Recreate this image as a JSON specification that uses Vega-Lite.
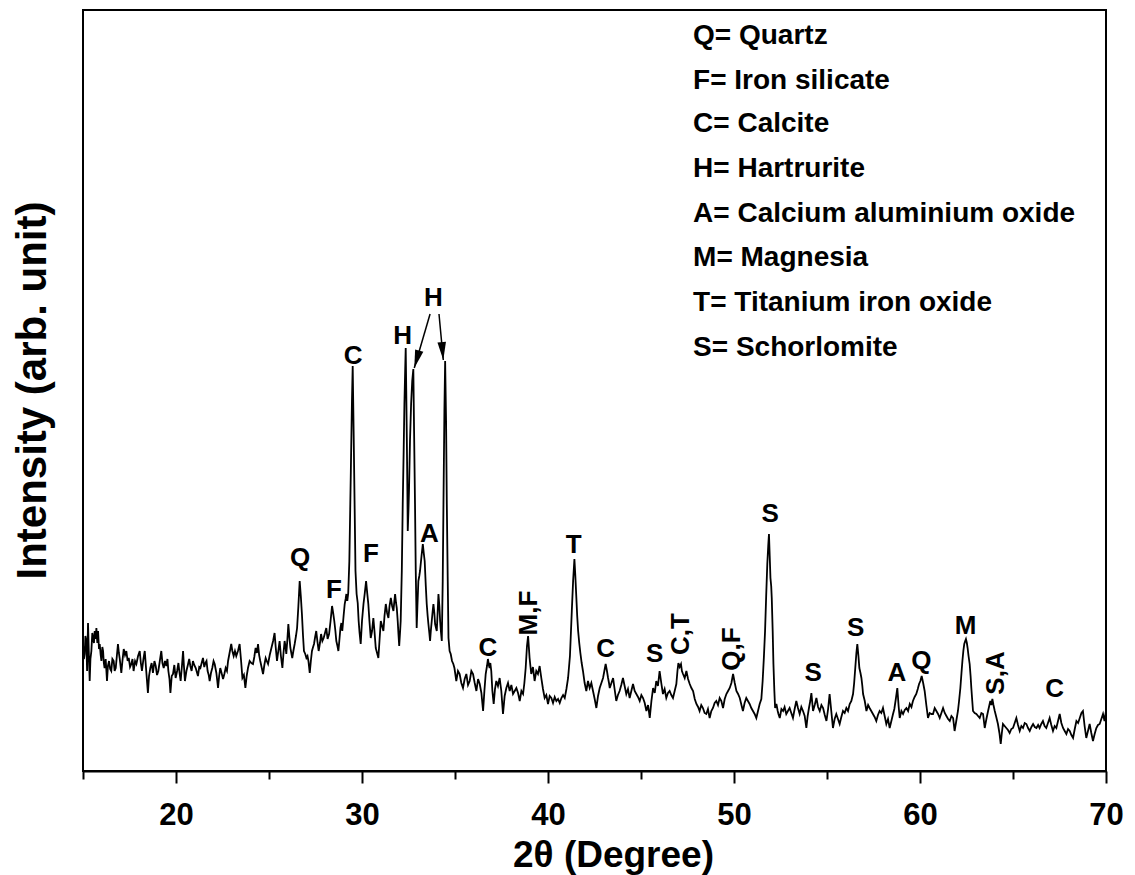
{
  "$schema": "https://vega.github.io/schema/vega-lite/v6.json",
  "width": 1023,
  "height": 761,
  "autosize": {"type": "none"},
  "padding": {"left": 83, "top": 10, "right": 29, "bottom": 104},
  "background": "white",
  "config": {
    "view": {"stroke": "black", "strokeWidth": 2},
    "font": "Liberation Sans",
    "axis": {"grid": false}
  },
  "datasets": {
    "trace": [
      {"t":15.00,"i":127},{"t":15.05,"i":112},{"t":15.09,"i":117},{"t":15.13,"i":135},{"t":15.18,"i":130},{"t":15.22,"i":100},{"t":15.27,"i":148},{"t":15.31,"i":120},{"t":15.36,"i":90},{"t":15.40,"i":112},{"t":15.45,"i":120},{"t":15.50,"i":138},{"t":15.54,"i":133},{"t":15.59,"i":128},{"t":15.63,"i":140},{"t":15.68,"i":132},{"t":15.72,"i":143},{"t":15.77,"i":128},{"t":15.81,"i":140},{"t":15.86,"i":122},{"t":15.90,"i":127},{"t":15.95,"i":116},{"t":15.99,"i":110},{"t":16.04,"i":124},{"t":16.08,"i":120},{"t":16.12,"i":108},{"t":16.16,"i":103},{"t":16.22,"i":112},{"t":16.29,"i":90},{"t":16.34,"i":105},{"t":16.40,"i":110},{"t":16.46,"i":102},{"t":16.52,"i":100},{"t":16.58,"i":112},{"t":16.65,"i":110},{"t":16.70,"i":100},{"t":16.76,"i":103},{"t":16.82,"i":115},{"t":16.88,"i":127},{"t":16.93,"i":118},{"t":16.97,"i":113},{"t":17.02,"i":105},{"t":17.06,"i":98},{"t":17.12,"i":110},{"t":17.19,"i":122},{"t":17.26,"i":116},{"t":17.33,"i":120},{"t":17.40,"i":110},{"t":17.46,"i":113},{"t":17.53,"i":104},{"t":17.60,"i":107},{"t":17.66,"i":112},{"t":17.72,"i":100},{"t":17.80,"i":110},{"t":17.87,"i":107},{"t":17.96,"i":115},{"t":18.05,"i":120},{"t":18.11,"i":108},{"t":18.17,"i":100},{"t":18.25,"i":112},{"t":18.32,"i":120},{"t":18.40,"i":100},{"t":18.49,"i":78},{"t":18.55,"i":95},{"t":18.62,"i":103},{"t":18.69,"i":108},{"t":18.76,"i":98},{"t":18.84,"i":110},{"t":18.91,"i":105},{"t":18.98,"i":96},{"t":19.05,"i":100},{"t":19.13,"i":110},{"t":19.21,"i":120},{"t":19.27,"i":108},{"t":19.34,"i":103},{"t":19.41,"i":110},{"t":19.48,"i":105},{"t":19.54,"i":112},{"t":19.59,"i":100},{"t":19.65,"i":92},{"t":19.70,"i":78},{"t":19.77,"i":95},{"t":19.84,"i":97},{"t":19.91,"i":106},{"t":19.98,"i":93},{"t":20.06,"i":100},{"t":20.13,"i":108},{"t":20.19,"i":98},{"t":20.25,"i":90},{"t":20.32,"i":105},{"t":20.38,"i":120},{"t":20.43,"i":104},{"t":20.48,"i":90},{"t":20.56,"i":100},{"t":20.65,"i":107},{"t":20.71,"i":112},{"t":20.77,"i":105},{"t":20.84,"i":100},{"t":20.91,"i":110},{"t":20.98,"i":106},{"t":21.06,"i":103},{"t":21.12,"i":99},{"t":21.18,"i":95},{"t":21.25,"i":104},{"t":21.31,"i":103},{"t":21.38,"i":108},{"t":21.45,"i":113},{"t":21.52,"i":104},{"t":21.58,"i":108},{"t":21.64,"i":110},{"t":21.70,"i":100},{"t":21.76,"i":96},{"t":21.81,"i":90},{"t":21.88,"i":98},{"t":21.95,"i":103},{"t":22.02,"i":110},{"t":22.08,"i":107},{"t":22.13,"i":102},{"t":22.17,"i":98},{"t":22.22,"i":90},{"t":22.26,"i":83},{"t":22.32,"i":95},{"t":22.38,"i":103},{"t":22.45,"i":98},{"t":22.53,"i":92},{"t":22.60,"i":97},{"t":22.67,"i":103},{"t":22.74,"i":100},{"t":22.80,"i":110},{"t":22.88,"i":118},{"t":22.97,"i":127},{"t":23.03,"i":120},{"t":23.10,"i":115},{"t":23.17,"i":120},{"t":23.24,"i":115},{"t":23.33,"i":120},{"t":23.42,"i":127},{"t":23.50,"i":110},{"t":23.57,"i":93},{"t":23.65,"i":96},{"t":23.73,"i":83},{"t":23.80,"i":95},{"t":23.87,"i":103},{"t":23.96,"i":110},{"t":24.05,"i":108},
      {"t":24.14,"i":107},{"t":24.21,"i":114},{"t":24.28,"i":123},{"t":24.35,"i":118},{"t":24.41,"i":127},{"t":24.47,"i":116},{"t":24.53,"i":110},{"t":24.60,"i":104},{"t":24.68,"i":97},{"t":24.75,"i":106},{"t":24.82,"i":113},{"t":24.88,"i":110},{"t":24.95,"i":107},{"t":25.04,"i":116},{"t":25.13,"i":123},{"t":25.22,"i":130},{"t":25.30,"i":138},{"t":25.36,"i":124},{"t":25.43,"i":110},{"t":25.50,"i":120},{"t":25.57,"i":130},{"t":25.64,"i":115},{"t":25.72,"i":103},{"t":25.78,"i":118},{"t":25.84,"i":130},{"t":25.89,"i":124},{"t":25.93,"i":117},{"t":25.99,"i":132},{"t":26.04,"i":147},{"t":26.10,"i":133},{"t":26.15,"i":123},{"t":26.20,"i":118},{"t":26.25,"i":113},{"t":26.31,"i":120},{"t":26.38,"i":127},{"t":26.45,"i":135},{"t":26.51,"i":143},{"t":26.58,"i":165},{"t":26.65,"i":190},{"t":26.71,"i":175},{"t":26.77,"i":157},{"t":26.83,"i":135},{"t":26.88,"i":120},{"t":26.95,"i":117},{"t":27.01,"i":113},{"t":27.07,"i":115},{"t":27.12,"i":110},{"t":27.19,"i":98},{"t":27.25,"i":110},{"t":27.31,"i":120},{"t":27.37,"i":124},{"t":27.42,"i":127},{"t":27.48,"i":134},{"t":27.54,"i":140},{"t":27.60,"i":130},{"t":27.67,"i":120},{"t":27.74,"i":128},{"t":27.80,"i":137},{"t":27.87,"i":130},{"t":27.94,"i":133},{"t":28.01,"i":138},{"t":28.08,"i":143},{"t":28.15,"i":132},{"t":28.23,"i":137},{"t":28.31,"i":150},{"t":28.39,"i":165},{"t":28.45,"i":158},{"t":28.51,"i":150},{"t":28.57,"i":140},{"t":28.62,"i":130},{"t":28.68,"i":125},{"t":28.73,"i":120},{"t":28.78,"i":130},{"t":28.84,"i":143},{"t":28.89,"i":148},{"t":28.94,"i":140},{"t":29.01,"i":155},{"t":29.07,"i":167},{"t":29.12,"i":172},{"t":29.16,"i":177},{"t":29.21,"i":170},{"t":29.26,"i":178},
      {"t":29.32,"i":210},{"t":29.40,"i":300},{"t":29.46,"i":370},{"t":29.50,"i":405},{"t":29.55,"i":340},{"t":29.60,"i":270},{"t":29.65,"i":200},{"t":29.71,"i":177},{"t":29.77,"i":168},{"t":29.82,"i":150},{"t":29.87,"i":138},{"t":29.93,"i":127},{"t":30.00,"i":150},{"t":30.08,"i":167},{"t":30.15,"i":178},{"t":30.22,"i":190},{"t":30.28,"i":178},{"t":30.34,"i":167},{"t":30.40,"i":150},{"t":30.47,"i":133},{"t":30.54,"i":140},{"t":30.61,"i":153},{"t":30.67,"i":140},{"t":30.74,"i":123},{"t":30.81,"i":118},{"t":30.88,"i":113},{"t":30.94,"i":130},{"t":31.01,"i":150},{"t":31.08,"i":145},{"t":31.15,"i":140},{"t":31.21,"i":155},{"t":31.28,"i":167},{"t":31.35,"i":158},{"t":31.42,"i":153},{"t":31.48,"i":165},{"t":31.55,"i":173},{"t":31.62,"i":165},{"t":31.69,"i":160},{"t":31.74,"i":170},{"t":31.78,"i":177},{"t":31.83,"i":168},{"t":31.87,"i":163},{"t":31.92,"i":150},{"t":31.96,"i":137},{"t":32.00,"i":125},{"t":32.05,"i":140},{"t":32.08,"i":150},{"t":32.14,"i":200},{"t":32.19,"i":267},{"t":32.24,"i":320},{"t":32.28,"i":367},{"t":32.32,"i":400},{"t":32.35,"i":423},{"t":32.38,"i":380},{"t":32.41,"i":333},{"t":32.44,"i":280},{"t":32.46,"i":240},{"t":32.50,"i":262},{"t":32.53,"i":283},{"t":32.58,"i":330},{"t":32.64,"i":367},{"t":32.70,"i":390},{"t":32.76,"i":402},{"t":32.80,"i":340},{"t":32.85,"i":267},{"t":32.89,"i":200},{"t":32.94,"i":143},{"t":32.98,"i":165},{"t":33.03,"i":190},{"t":33.08,"i":195},{"t":33.12,"i":200},{"t":33.20,"i":215},{"t":33.27,"i":227},{"t":33.32,"i":218},{"t":33.37,"i":210},{"t":33.43,"i":185},{"t":33.48,"i":167},{"t":33.53,"i":155},{"t":33.57,"i":147},{"t":33.62,"i":138},{"t":33.66,"i":130},{"t":33.70,"i":140},{"t":33.75,"i":150},{"t":33.80,"i":160},{"t":33.84,"i":167},{"t":33.89,"i":158},{"t":33.93,"i":147},{"t":33.98,"i":143},{"t":34.02,"i":140},{"t":34.07,"i":160},{"t":34.11,"i":177},{"t":34.16,"i":165},{"t":34.20,"i":150},{"t":34.25,"i":138},{"t":34.29,"i":130},{"t":34.34,"i":190},{"t":34.38,"i":267},{"t":34.43,"i":360},{"t":34.47,"i":410},{"t":34.52,"i":350},{"t":34.56,"i":267},{"t":34.61,"i":190},{"t":34.65,"i":133},{"t":34.71,"i":120},{"t":34.77,"i":117},{"t":34.84,"i":110},{"t":34.91,"i":107},{"t":34.97,"i":103},
      {"t":35.07,"i":90},{"t":35.16,"i":100},{"t":35.25,"i":97},{"t":35.34,"i":88},{"t":35.43,"i":83},{"t":35.52,"i":92},{"t":35.61,"i":97},{"t":35.70,"i":86},{"t":35.79,"i":90},{"t":35.88,"i":100},{"t":35.97,"i":97},{"t":36.06,"i":88},{"t":36.15,"i":80},{"t":36.24,"i":92},{"t":36.33,"i":87},{"t":36.42,"i":78},{"t":36.51,"i":60},{"t":36.58,"i":80},{"t":36.65,"i":97},{"t":36.72,"i":105},{"t":36.77,"i":112},{"t":36.82,"i":106},{"t":36.86,"i":103},{"t":36.90,"i":108},{"t":36.95,"i":100},{"t":37.01,"i":80},{"t":37.08,"i":67},{"t":37.15,"i":82},{"t":37.22,"i":90},{"t":37.31,"i":85},{"t":37.40,"i":93},{"t":37.49,"i":80},{"t":37.58,"i":57},{"t":37.67,"i":75},{"t":37.76,"i":83},{"t":37.85,"i":88},{"t":37.94,"i":80},{"t":38.03,"i":86},{"t":38.12,"i":77},{"t":38.21,"i":80},{"t":38.30,"i":83},{"t":38.39,"i":78},{"t":38.48,"i":70},{"t":38.57,"i":80},{"t":38.66,"i":77},{"t":38.73,"i":88},{"t":38.80,"i":103},{"t":38.87,"i":125},{"t":38.93,"i":135},{"t":38.97,"i":124},{"t":39.01,"i":113},{"t":39.06,"i":104},{"t":39.10,"i":97},{"t":39.19,"i":104},{"t":39.28,"i":90},{"t":39.37,"i":100},{"t":39.46,"i":97},{"t":39.55,"i":105},{"t":39.64,"i":93},{"t":39.73,"i":82},{"t":39.82,"i":73},{"t":39.91,"i":76},{"t":40.00,"i":67},{"t":40.09,"i":75},{"t":40.18,"i":73},{"t":40.27,"i":68},{"t":40.36,"i":74},{"t":40.45,"i":70},{"t":40.54,"i":72},{"t":40.63,"i":68},{"t":40.72,"i":73},{"t":40.81,"i":76},{"t":40.90,"i":73},{"t":40.99,"i":82},{"t":41.08,"i":93},{"t":41.18,"i":115},{"t":41.28,"i":160},{"t":41.35,"i":190},{"t":41.42,"i":212},{"t":41.47,"i":195},{"t":41.52,"i":175},{"t":41.57,"i":155},{"t":41.62,"i":140},{"t":41.68,"i":128},{"t":41.74,"i":118},{"t":41.81,"i":108},{"t":41.88,"i":100},{"t":41.97,"i":88},{"t":42.06,"i":80},{"t":42.15,"i":90},{"t":42.24,"i":83},{"t":42.33,"i":88},{"t":42.42,"i":80},{"t":42.51,"i":72},{"t":42.60,"i":63},{"t":42.69,"i":75},{"t":42.78,"i":83},{"t":42.87,"i":88},{"t":42.96,"i":93},{"t":43.03,"i":100},{"t":43.10,"i":107},{"t":43.17,"i":100},{"t":43.23,"i":93},{"t":43.28,"i":88},{"t":43.32,"i":83},{"t":43.41,"i":88},{"t":43.50,"i":93},{"t":43.58,"i":82},{"t":43.67,"i":70},{"t":43.76,"i":76},{"t":43.85,"i":80},{"t":43.94,"i":86},{"t":44.03,"i":93},{"t":44.12,"i":85},{"t":44.21,"i":77},{"t":44.30,"i":82},{"t":44.39,"i":73},{"t":44.48,"i":80},{"t":44.57,"i":87},{"t":44.66,"i":80},{"t":44.75,"i":77},{"t":44.84,"i":74},{"t":44.93,"i":70},{"t":45.02,"i":76},{"t":45.11,"i":73},{"t":45.20,"i":68},{"t":45.29,"i":60},{"t":45.38,"i":66},{"t":45.47,"i":53},{"t":45.56,"i":70},{"t":45.65,"i":83},{"t":45.74,"i":78},{"t":45.82,"i":90},{"t":45.91,"i":85},{"t":46.00,"i":100},{"t":46.09,"i":88},{"t":46.18,"i":77},{"t":46.27,"i":82},{"t":46.36,"i":73},{"t":46.45,"i":78},{"t":46.54,"i":80},{"t":46.63,"i":76},{"t":46.72,"i":73},{"t":46.81,"i":80},{"t":46.90,"i":87},{"t":46.96,"i":100},{"t":47.01,"i":108},{"t":47.08,"i":104},{"t":47.15,"i":107},{"t":47.20,"i":100},{"t":47.26,"i":97},{"t":47.35,"i":93},{"t":47.44,"i":100},{"t":47.53,"i":92},{"t":47.62,"i":87},{"t":47.71,"i":83},{"t":47.80,"i":80},{"t":47.89,"i":72},{"t":47.98,"i":67},{"t":48.07,"i":64},{"t":48.15,"i":60},{"t":48.24,"i":66},{"t":48.33,"i":63},{"t":48.42,"i":58},{"t":48.51,"i":57},{"t":48.60,"i":62},{"t":48.69,"i":53},{"t":48.78,"i":60},{"t":48.87,"i":63},{"t":48.96,"i":68},{"t":49.05,"i":70},{"t":49.14,"i":66},{"t":49.23,"i":73},{"t":49.32,"i":70},{"t":49.41,"i":63},{"t":49.50,"i":72},{"t":49.59,"i":77},{"t":49.68,"i":80},{"t":49.77,"i":83},{"t":49.86,"i":88},{"t":49.95,"i":97},{"t":50.04,"i":88},{"t":50.13,"i":80},{"t":50.22,"i":77},{"t":50.31,"i":73},{"t":50.40,"i":66},{"t":50.48,"i":60},{"t":50.57,"i":68},{"t":50.66,"i":73},{"t":50.75,"i":70},{"t":50.84,"i":67},{"t":50.93,"i":63},{"t":51.02,"i":60},{"t":51.11,"i":57},{"t":51.20,"i":53},{"t":51.29,"i":60},{"t":51.38,"i":67},{"t":51.47,"i":72},{"t":51.54,"i":90},{"t":51.61,"i":115},{"t":51.67,"i":140},{"t":51.73,"i":175},{"t":51.79,"i":207},{"t":51.84,"i":225},{"t":51.88,"i":237},{"t":51.92,"i":215},{"t":51.96,"i":193},{"t":52.00,"i":185},{"t":52.03,"i":173},{"t":52.08,"i":140},{"t":52.12,"i":107},{"t":52.17,"i":80},{"t":52.21,"i":63},{"t":52.28,"i":67},{"t":52.35,"i":60},{"t":52.39,"i":57},{"t":52.46,"i":53},{"t":52.55,"i":62},{"t":52.64,"i":60},{"t":52.72,"i":64},{"t":52.81,"i":57},{"t":52.90,"i":60},{"t":52.99,"i":63},{"t":53.08,"i":58},{"t":53.17,"i":53},{"t":53.26,"i":62},{"t":53.35,"i":70},{"t":53.44,"i":63},{"t":53.53,"i":57},{"t":53.62,"i":64},{"t":53.71,"i":60},{"t":53.80,"i":55},{"t":53.89,"i":43},{"t":53.96,"i":55},{"t":54.03,"i":63},{"t":54.10,"i":70},{"t":54.16,"i":78},{"t":54.21,"i":68},{"t":54.25,"i":60},{"t":54.34,"i":66},{"t":54.43,"i":73},{"t":54.52,"i":64},{"t":54.61,"i":60},{"t":54.70,"i":66},{"t":54.79,"i":63},{"t":54.88,"i":56},{"t":54.97,"i":50},{"t":55.06,"i":62},{"t":55.14,"i":77},{"t":55.23,"i":60},{"t":55.32,"i":43},{"t":55.41,"i":52},{"t":55.50,"i":57},{"t":55.59,"i":52},{"t":55.68,"i":47},{"t":55.77,"i":54},{"t":55.86,"i":60},{"t":55.95,"i":58},{"t":56.04,"i":63},{"t":56.13,"i":60},{"t":56.22,"i":67},{"t":56.31,"i":70},{"t":56.40,"i":77},{"t":56.46,"i":88},{"t":56.52,"i":103},{"t":56.58,"i":118},{"t":56.63,"i":127},{"t":56.69,"i":115},{"t":56.74,"i":103},{"t":56.80,"i":98},{"t":56.85,"i":93},{"t":56.90,"i":85},{"t":56.94,"i":77},{"t":57.03,"i":70},{"t":57.12,"i":60},{"t":57.21,"i":66},{"t":57.29,"i":63},{"t":57.38,"i":60},{"t":57.47,"i":57},{"t":57.56,"i":54},{"t":57.65,"i":50},{"t":57.74,"i":56},{"t":57.83,"i":60},{"t":57.92,"i":58},{"t":58.01,"i":63},{"t":58.10,"i":55},{"t":58.19,"i":47},{"t":58.28,"i":52},{"t":58.37,"i":43},{"t":58.46,"i":50},{"t":58.55,"i":57},{"t":58.62,"i":62},{"t":58.70,"i":72},{"t":58.78,"i":83},{"t":58.85,"i":65},{"t":58.91,"i":53},{"t":59.00,"i":60},{"t":59.09,"i":57},{"t":59.18,"i":61},{"t":59.27,"i":63},{"t":59.36,"i":60},{"t":59.45,"i":67},{"t":59.54,"i":64},{"t":59.62,"i":70},{"t":59.71,"i":74},{"t":59.80,"i":77},{"t":59.88,"i":82},{"t":59.95,"i":87},{"t":60.02,"i":90},{"t":60.09,"i":95},{"t":60.17,"i":88},{"t":60.25,"i":80},{"t":60.34,"i":66},{"t":60.43,"i":53},{"t":60.52,"i":58},{"t":60.61,"i":57},{"t":60.70,"i":57},{"t":60.79,"i":63},{"t":60.88,"i":60},{"t":60.97,"i":57},{"t":61.06,"i":53},{"t":61.15,"i":58},{"t":61.24,"i":63},{"t":61.33,"i":58},{"t":61.42,"i":55},{"t":61.51,"i":52},{"t":61.60,"i":50},{"t":61.69,"i":55},{"t":61.78,"i":53},{"t":61.86,"i":40},{"t":61.95,"i":50},{"t":62.04,"i":60},{"t":62.10,"i":70},{"t":62.17,"i":83},{"t":62.23,"i":98},{"t":62.28,"i":110},{"t":62.33,"i":120},{"t":62.38,"i":127},{"t":62.43,"i":130},{"t":62.47,"i":132},{"t":62.52,"i":128},{"t":62.56,"i":123},{"t":62.61,"i":115},{"t":62.67,"i":107},{"t":62.72,"i":95},{"t":62.76,"i":83},{"t":62.81,"i":70},{"t":62.85,"i":60},{"t":62.94,"i":58},{"t":63.03,"i":57},{"t":63.12,"i":55},{"t":63.21,"i":53},{"t":63.30,"i":58},{"t":63.39,"i":57},{"t":63.48,"i":43},{"t":63.57,"i":52},{"t":63.66,"i":60},{"t":63.72,"i":65},{"t":63.78,"i":70},{"t":63.84,"i":66},{"t":63.89,"i":72},{"t":63.95,"i":66},{"t":64.02,"i":60},{"t":64.10,"i":54},{"t":64.19,"i":47},{"t":64.27,"i":38},{"t":64.34,"i":27},{"t":64.40,"i":38},{"t":64.46,"i":47},{"t":64.55,"i":45},{"t":64.64,"i":43},{"t":64.73,"i":41},{"t":64.82,"i":38},{"t":64.91,"i":42},{"t":65.00,"i":43},{"t":65.09,"i":48},{"t":65.18,"i":53},{"t":65.27,"i":46},{"t":65.36,"i":40},{"t":65.45,"i":45},{"t":65.54,"i":43},{"t":65.63,"i":48},{"t":65.72,"i":47},{"t":65.81,"i":43},{"t":65.90,"i":40},{"t":65.99,"i":44},{"t":66.08,"i":47},{"t":66.17,"i":44},{"t":66.26,"i":43},{"t":66.35,"i":46},{"t":66.43,"i":43},{"t":66.52,"i":47},{"t":66.61,"i":50},{"t":66.70,"i":45},{"t":66.79,"i":43},{"t":66.88,"i":48},{"t":66.97,"i":53},{"t":67.06,"i":46},{"t":67.15,"i":40},{"t":67.24,"i":45},{"t":67.33,"i":43},{"t":67.42,"i":50},{"t":67.51,"i":57},{"t":67.60,"i":48},{"t":67.69,"i":43},{"t":67.78,"i":40},{"t":67.87,"i":37},{"t":67.96,"i":42},{"t":68.05,"i":40},{"t":68.14,"i":36},{"t":68.23,"i":33},{"t":68.32,"i":42},{"t":68.41,"i":50},{"t":68.50,"i":48},{"t":68.59,"i":53},{"t":68.68,"i":58},{"t":68.76,"i":60},{"t":68.85,"i":45},{"t":68.94,"i":33},{"t":69.03,"i":40},{"t":69.12,"i":47},{"t":69.21,"i":38},{"t":69.30,"i":30},{"t":69.39,"i":37},{"t":69.48,"i":43},{"t":69.57,"i":46},{"t":69.66,"i":47},{"t":69.75,"i":52},{"t":69.84,"i":57},{"t":69.92,"i":50},{"t":70.00,"i":60}
    ],
    "peaks": [
      {"t":26.67,"i":213,"lab":"Q"},{"t":28.49,"i":181,"lab":"F"},{"t":29.53,"i":415,"lab":"C"},{"t":30.48,"i":217,"lab":"F"},
      {"t":32.19,"i":435,"lab":"H"},{"t":33.84,"i":473,"lab":"H"},{"t":33.62,"i":237,"lab":"A"},{"t":36.77,"i":123,"lab":"C"},
      {"t":41.38,"i":226,"lab":"T"},{"t":43.10,"i":122,"lab":"C"},{"t":45.73,"i":117,"lab":"S"},{"t":51.94,"i":257,"lab":"S"},
      {"t":54.25,"i":98,"lab":"S"},{"t":56.54,"i":143,"lab":"S"},{"t":58.76,"i":98,"lab":"A"},{"t":60.07,"i":110,"lab":"Q"},
      {"t":62.45,"i":145,"lab":"M"},{"t":67.24,"i":82,"lab":"C"}
    ],
    "peaksVertical": [
      {"t":38.98,"i":158,"lab":"M,F"},{"t":47.17,"i":137,"lab":"C,T"},{"t":49.91,"i":122,"lab":"Q,F"},{"t":64.10,"i":98,"lab":"S,A"}
    ],
    "arrows": [
      {"t":33.66,"i":457,"t2":32.81,"i2":403},
      {"t":34.14,"i":457,"t2":34.37,"i2":411}
    ],
    "phases": [
      {"t":47.8,"i":735,"lab":"Q= Quartz"},
      {"t":47.8,"i":690,"lab":"F= Iron silicate"},
      {"t":47.8,"i":647,"lab":"C= Calcite"},
      {"t":47.8,"i":602,"lab":"H= Hartrurite"},
      {"t":47.8,"i":557,"lab":"A= Calcium aluminium oxide"},
      {"t":47.8,"i":513,"lab":"M= Magnesia"},
      {"t":47.8,"i":468,"lab":"T= Titanium iron oxide"},
      {"t":47.8,"i":423,"lab":"S= Schorlomite"}
    ]
  },
  "layer": [
    {
      "data": {"name": "trace"},
      "mark": {"type": "line", "color": "black", "strokeWidth": 1.8},
      "encoding": {
        "x": {
          "field": "t", "type": "quantitative",
          "scale": {"domain": [15, 70], "nice": false, "zero": false},
          "axis": {
            "title": "2θ (Degree)",
            "values": [15, 20, 25, 30, 35, 40, 45, 50, 55, 60, 65, 70],
            "labelExpr": "datum.value % 10 === 0 ? datum.label : ''",
            "tickSize": {"condition": {"test": "datum.value % 10 === 0", "value": 12}, "value": 8},
            "tickWidth": 2, "tickColor": "black",
            "domainColor": "black", "domainWidth": 2,
            "labelFont": "Liberation Sans", "labelFontSize": 31, "labelFontWeight": "bold", "labelColor": "black",
            "labelPadding": 17, "labelFlush": false, "labelOverlap": false,
            "titleFont": "Liberation Sans", "titleFontSize": 37, "titleFontWeight": "bold", "titleColor": "black",
            "titleX": 530, "titleY": 95, "titleAlign": "center", "titleBaseline": "alphabetic"
          }
        },
        "y": {
          "field": "i", "type": "quantitative",
          "scale": {"domain": [0, 761], "nice": false, "zero": false},
          "axis": {
            "title": "Intensity (arb. unit)",
            "labels": false, "ticks": false, "domain": false,
            "titleFont": "Liberation Sans", "titleFontSize": 42, "titleFontWeight": "bold", "titleColor": "black",
            "titleX": -51, "titleY": 380, "titleAngle": 270, "titleAlign": "center", "titleBaseline": "middle"
          }
        }
      }
    },
    {
      "data": {"name": "peaks"},
      "mark": {"type": "text", "font": "Liberation Sans", "fontSize": 26, "fontWeight": "bold", "color": "black", "align": "center", "baseline": "middle"},
      "encoding": {
        "x": {"field": "t", "type": "quantitative"},
        "y": {"field": "i", "type": "quantitative"},
        "text": {"field": "lab"}
      }
    },
    {
      "data": {"name": "peaksVertical"},
      "mark": {"type": "text", "font": "Liberation Sans", "fontSize": 26, "fontWeight": "bold", "color": "black", "align": "center", "baseline": "middle", "angle": 270},
      "encoding": {
        "x": {"field": "t", "type": "quantitative"},
        "y": {"field": "i", "type": "quantitative"},
        "text": {"field": "lab"}
      }
    },
    {
      "data": {"name": "arrows"},
      "mark": {"type": "rule", "color": "black", "strokeWidth": 1.5},
      "encoding": {
        "x": {"field": "t", "type": "quantitative"},
        "y": {"field": "i", "type": "quantitative"},
        "x2": {"field": "t2"},
        "y2": {"field": "i2"}
      }
    },
    {
      "data": {"name": "arrows"},
      "transform": [{"filter": "datum.t2 < 33"}],
      "mark": {"type": "point", "shape": "M0,0L-0.45,-1.9L0.45,-1.9Z", "filled": true, "color": "black", "opacity": 1, "size": 361, "angle": 16},
      "encoding": {
        "x": {"field": "t2", "type": "quantitative"},
        "y": {"field": "i2", "type": "quantitative"}
      }
    },
    {
      "data": {"name": "arrows"},
      "transform": [{"filter": "datum.t2 > 33"}],
      "mark": {"type": "point", "shape": "M0,0L-0.45,-1.9L0.45,-1.9Z", "filled": true, "color": "black", "opacity": 1, "size": 361, "angle": 355},
      "encoding": {
        "x": {"field": "t2", "type": "quantitative"},
        "y": {"field": "i2", "type": "quantitative"}
      }
    },
    {
      "data": {"name": "phases"},
      "mark": {"type": "text", "font": "Liberation Sans", "fontSize": 28, "fontWeight": "bold", "color": "black", "align": "left", "baseline": "middle"},
      "encoding": {
        "x": {"field": "t", "type": "quantitative"},
        "y": {"field": "i", "type": "quantitative"},
        "text": {"field": "lab"}
      }
    }
  ]
}
